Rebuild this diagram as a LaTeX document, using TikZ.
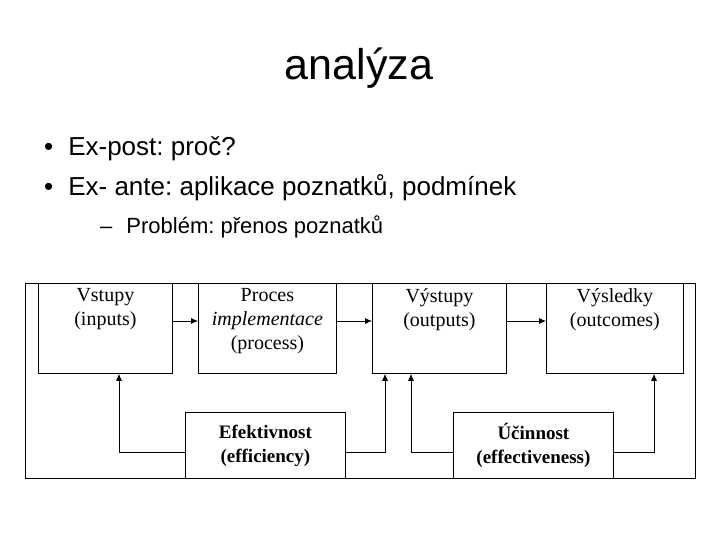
\documentclass[tikz,border=0pt]{standalone}
\usepackage{fontspec}
\setmainfont{Liberation Serif}
\newfontfamily\slidefont{Liberation Sans}
\usetikzlibrary{positioning, arrows.meta}
\frenchspacing

\begin{document}
\begin{tikzpicture}[x=1pt, y=-1pt,
    blok/.style={draw, thick, anchor=north west, align=center, inner sep=0pt,
                 font=\fontsize{20}{24}\selectfont},
    popis/.style={align=center, anchor=north, yshift=-2pt, font=\fontsize{20}{24}\selectfont},
    sipka/.style={thick, -{Latex[length=7pt, width=6pt]}}]
  \useasboundingbox (0,0) rectangle (720,540);
  % Title and bullets
  \node[font=\slidefont\fontsize{43}{48}\selectfont] (title) at (359,68) {analýza};
  \node[anchor=west, inner sep=0pt, font=\slidefont\fontsize{26}{30}\selectfont] (b1) at (44,149) {•\hspace{15pt}Ex-post: proč?};
  \node[anchor=west, inner sep=0pt, font=\slidefont\fontsize{26}{30}\selectfont] (b2) at (44,188) {•\hspace{15pt}Ex- ante: aplikace poznatků, podmínek};
  \node[anchor=west, inner sep=0pt, font=\slidefont\fontsize{22}{26}\selectfont] (b3) at (100,227) {–\hspace{14pt}Problém: přenos poznatků};

  % Frame
  \node[draw, thick, anchor=north west, minimum width=670pt, minimum height=195pt, inner sep=0pt] (frame) at (25,283) {};

  % Boxes
  \node[blok, minimum width=134pt, minimum height=90pt] (vstupy) at (38,283) {};
  \node[popis] at (vstupy.north) {Vstupy\\(inputs)};
  \node[blok, minimum width=138pt, minimum height=90pt] (proces) at (198,283) {};
  \node[popis] at (proces.north) {Proces\\\textit{implementace}\\(process)};
  \node[blok, minimum width=134pt, minimum height=90pt] (vystupy) at (372,283) {};
  \node[popis] at (vystupy.north) {Výstupy\\(outputs)};
  \node[blok, minimum width=137pt, minimum height=90pt] (vysledky) at (546,283) {};
  \node[popis] at (vysledky.north) {Výsledky\\(outcomes)};

  \node[blok, minimum width=160pt, minimum height=66pt, font=\bfseries\fontsize{19}{24}\selectfont] (efekt) at (185,412) {Efektivnost\\(efficiency)};
  \node[blok, minimum width=160pt, minimum height=66pt, font=\bfseries\fontsize{19}{24}\selectfont] (ucin) at (453,412) {Účinnost\\(effectiveness)};

  % Arrows
  \draw[sipka] (vstupy.east |- 0,321) -- (proces.west |- 0,321);
  \draw[sipka] (proces.east |- 0,321) -- (vystupy.west |- 0,321);
  \draw[sipka] (vystupy.east |- 0,321) -- (vysledky.west |- 0,321);
  \draw[sipka] (efekt.west |- 0,452) -| (vstupy.south -| 119,0);
  \draw[sipka] (efekt.east |- 0,452) -| (vystupy.south -| 385,0);
  \draw[sipka] (ucin.west |- 0,452) -| (vystupy.south -| 411,0);
  \draw[sipka] (ucin.east |- 0,452) -| (vysledky.south -| 654,0);
\end{tikzpicture}
\end{document}
